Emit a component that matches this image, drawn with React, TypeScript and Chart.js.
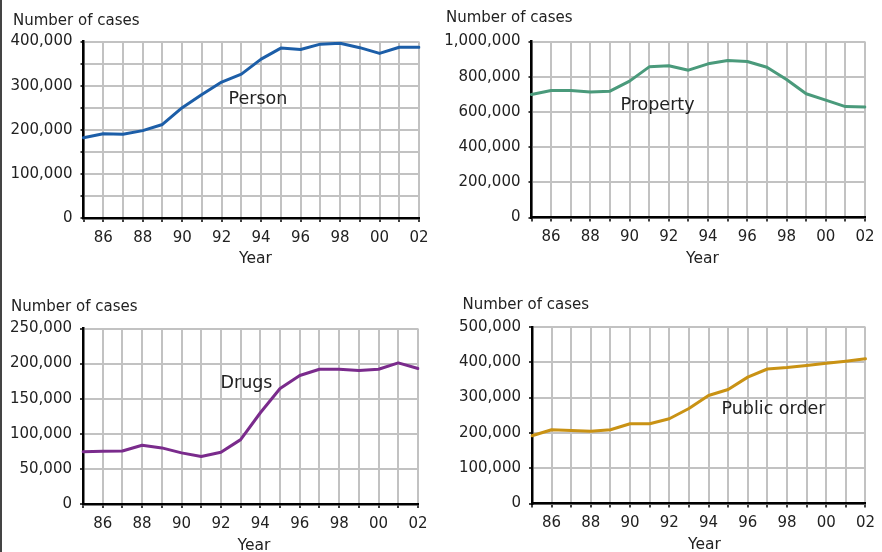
import React, { useEffect, useRef } from 'react';
import { Chart, registerables } from 'chart.js';

Chart.register(...registerables);

const years = [1985, 1986, 1987, 1988, 1989, 1990, 1991, 1992, 1993, 1994, 1995, 1996, 1997, 1998, 1999, 2000, 2001, 2002];
const yearTickLabels = ['', '86', '', '88', '', '90', '', '92', '', '94', '', '96', '', '98', '', '00', '', '02'];

const personCases = [182000, 191000, 190000, 198000, 212000, 250000, 280000, 308000, 326000, 360000, 385000, 382000, 394000, 396000, 386000, 373000, 387000, 387000];
const propertyCases = [699000, 722000, 722000, 713000, 718000, 775000, 856000, 862000, 837000, 873000, 892000, 886000, 854000, 784000, 703000, 667000, 630000, 628000];
const drugsCases = [74500, 75000, 75500, 83600, 79900, 72800, 67600, 73700, 91700, 130000, 164500, 183000, 192000, 192000, 190000, 192000, 201000, 193000];
const publicOrderCases = [192000, 209000, 207000, 205000, 209000, 226000, 226000, 240000, 269000, 306000, 323000, 358000, 381000, 385000, 391000, 397000, 403000, 410000];

const personYLabels = [0, 100000, 200000, 300000, 400000];
const propertyYLabels = [0, 200000, 400000, 600000, 800000, 1000000];
const drugsYLabels = [0, 50000, 100000, 150000, 200000, 250000];
const publicOrderYLabels = [0, 100000, 200000, 300000, 400000, 500000];

type Panel = {
  label: string;
  data: number[];
  color: string;
  yMax: number;
  yStep: number;
  yLabels: number[];
  left: number;
  top: number;
  w: number;
  h: number;
  area: { l: number; r: number; t: number; b: number };
  noc: { x: number; y: number };
  lab: { x: number; y: number };
  year: { x: number; y: number };
};

const panels: Panel[] = [
  {
    label: 'Person', data: personCases, color: '#1c5ea8', yMax: 400000, yStep: 50000, yLabels: personYLabels,
    left: 0, top: 0, w: 440, h: 276,
    area: { l: 83.5, r: 419, t: 41.5, b: 218 },
    noc: { x: 13, y: 25 }, lab: { x: 228.5, y: 104 }, year: { x: 239, y: 263 },
  },
  {
    label: 'Property', data: propertyCases, color: '#4a9a7b', yMax: 1000000, yStep: 100000, yLabels: propertyYLabels,
    left: 440, top: 0, w: 442, h: 276,
    area: { l: 91.5, r: 425, t: 41.5, b: 217.5 },
    noc: { x: 6, y: 22 }, lab: { x: 180.5, y: 110 }, year: { x: 246, y: 263 },
  },
  {
    label: 'Drugs', data: drugsCases, color: '#7a2b8c', yMax: 250000, yStep: 50000, yLabels: drugsYLabels,
    left: 0, top: 276, w: 440, h: 276,
    area: { l: 83, r: 418, t: 52.5, b: 228 },
    noc: { x: 11, y: 35 }, lab: { x: 220.5, y: 111.5 }, year: { x: 237.5, y: 273.5 },
  },
  {
    label: 'Public order', data: publicOrderCases, color: '#c99214', yMax: 500000, yStep: 50000, yLabels: publicOrderYLabels,
    left: 440, top: 276, w: 442, h: 276,
    area: { l: 92, r: 428, t: 51, b: 227.5 },
    noc: { x: 22.5, y: 32.5 }, lab: { x: 281.5, y: 137.5 }, year: { x: 248, y: 272.5 },
  },
];

const FONT = '"DejaVu Sans", sans-serif';
const TEXT = '#222222';
const GRID = '#c2c2c2';

function ChartPanel({ p }: { p: Panel }) {
  const ref = useRef<HTMLCanvasElement | null>(null);
  useEffect(() => {
    if (!ref.current) return;
    const textPlugin = {
      id: 'panelTexts',
      afterDraw(chart: any) {
        const ctx = chart.ctx as CanvasRenderingContext2D;
        ctx.save();
        ctx.fillStyle = TEXT;
        ctx.textAlign = 'left';
        ctx.textBaseline = 'alphabetic';
        ctx.font = `15px ${FONT}`;
        ctx.fillText('Number of cases', p.noc.x, p.noc.y);
        ctx.font = `15.5px ${FONT}`;
        ctx.fillText('Year', p.year.x, p.year.y);
        ctx.font = `17.5px ${FONT}`;
        ctx.fillText(p.label, p.lab.x, p.lab.y);
        ctx.restore();
      },
    };
    const chart = new Chart(ref.current, {
      type: 'line',
      data: {
        labels: years.map(String),
        datasets: [
          {
            label: p.label,
            data: p.data,
            borderColor: p.color,
            backgroundColor: p.color,
            borderWidth: 3,
            pointRadius: 0,
            tension: 0,
            borderJoinStyle: 'round',
            borderCapStyle: 'round',
            fill: false,
          },
        ],
      },
      options: {
        animation: false,
        responsive: false,
        devicePixelRatio: window.devicePixelRatio || 1,
        layout: { padding: { left: 0, top: p.area.t, right: p.w - p.area.r, bottom: 0 } },
        plugins: { legend: { display: false }, tooltip: { enabled: false }, title: { display: false } },
        scales: {
          x: {
            type: 'category',
            offset: false,
            grid: { color: GRID, lineWidth: 2, tickColor: '#000', tickLength: 4, tickWidth: 1.5, drawTicks: true },
            border: { display: true, color: '#000', width: 2.5 },
            ticks: {
              autoSkip: false,
              maxRotation: 0,
              minRotation: 0,
              padding: 7,
              color: TEXT,
              font: { family: FONT, size: 15 },
              callback: (_v: any, i: number) => yearTickLabels[i],
            },
            afterFit: (s: any) => {
              s.height = p.h - p.area.b;
            },
          },
          y: {
            type: 'linear',
            min: 0,
            max: p.yMax,
            grid: { color: GRID, lineWidth: 2, tickColor: '#000', tickLength: 3, tickWidth: 1.5, drawTicks: true },
            border: { display: true, color: '#000', width: 2.5 },
            ticks: {
              stepSize: p.yStep,
              padding: 8,
              color: TEXT,
              font: { family: FONT, size: 15 },
              callback: (v: any) => (p.yLabels.includes(Number(v)) ? Number(v).toLocaleString('en-US') : ''),
            },
            afterFit: (s: any) => {
              s.width = p.area.l;
            },
          },
        },
      },
      plugins: [textPlugin],
    } as any);
    return () => chart.destroy();
  }, [p]);
  return (
    <canvas
      ref={ref}
      width={p.w}
      height={p.h}
      style={{ position: 'absolute', left: p.left, top: p.top, width: p.w, height: p.h }}
    />
  );
}

export default function App() {
  return (
    <div style={{ position: 'absolute', left: 0, top: 0, width: 882, height: 552, background: '#fff', overflow: 'hidden' }}>
      {panels.map((p) => (
        <ChartPanel key={p.label} p={p} />
      ))}
      <div style={{ position: 'absolute', left: 0, top: 0, width: 2, height: 552, background: '#444' }} />
    </div>
  );
}
